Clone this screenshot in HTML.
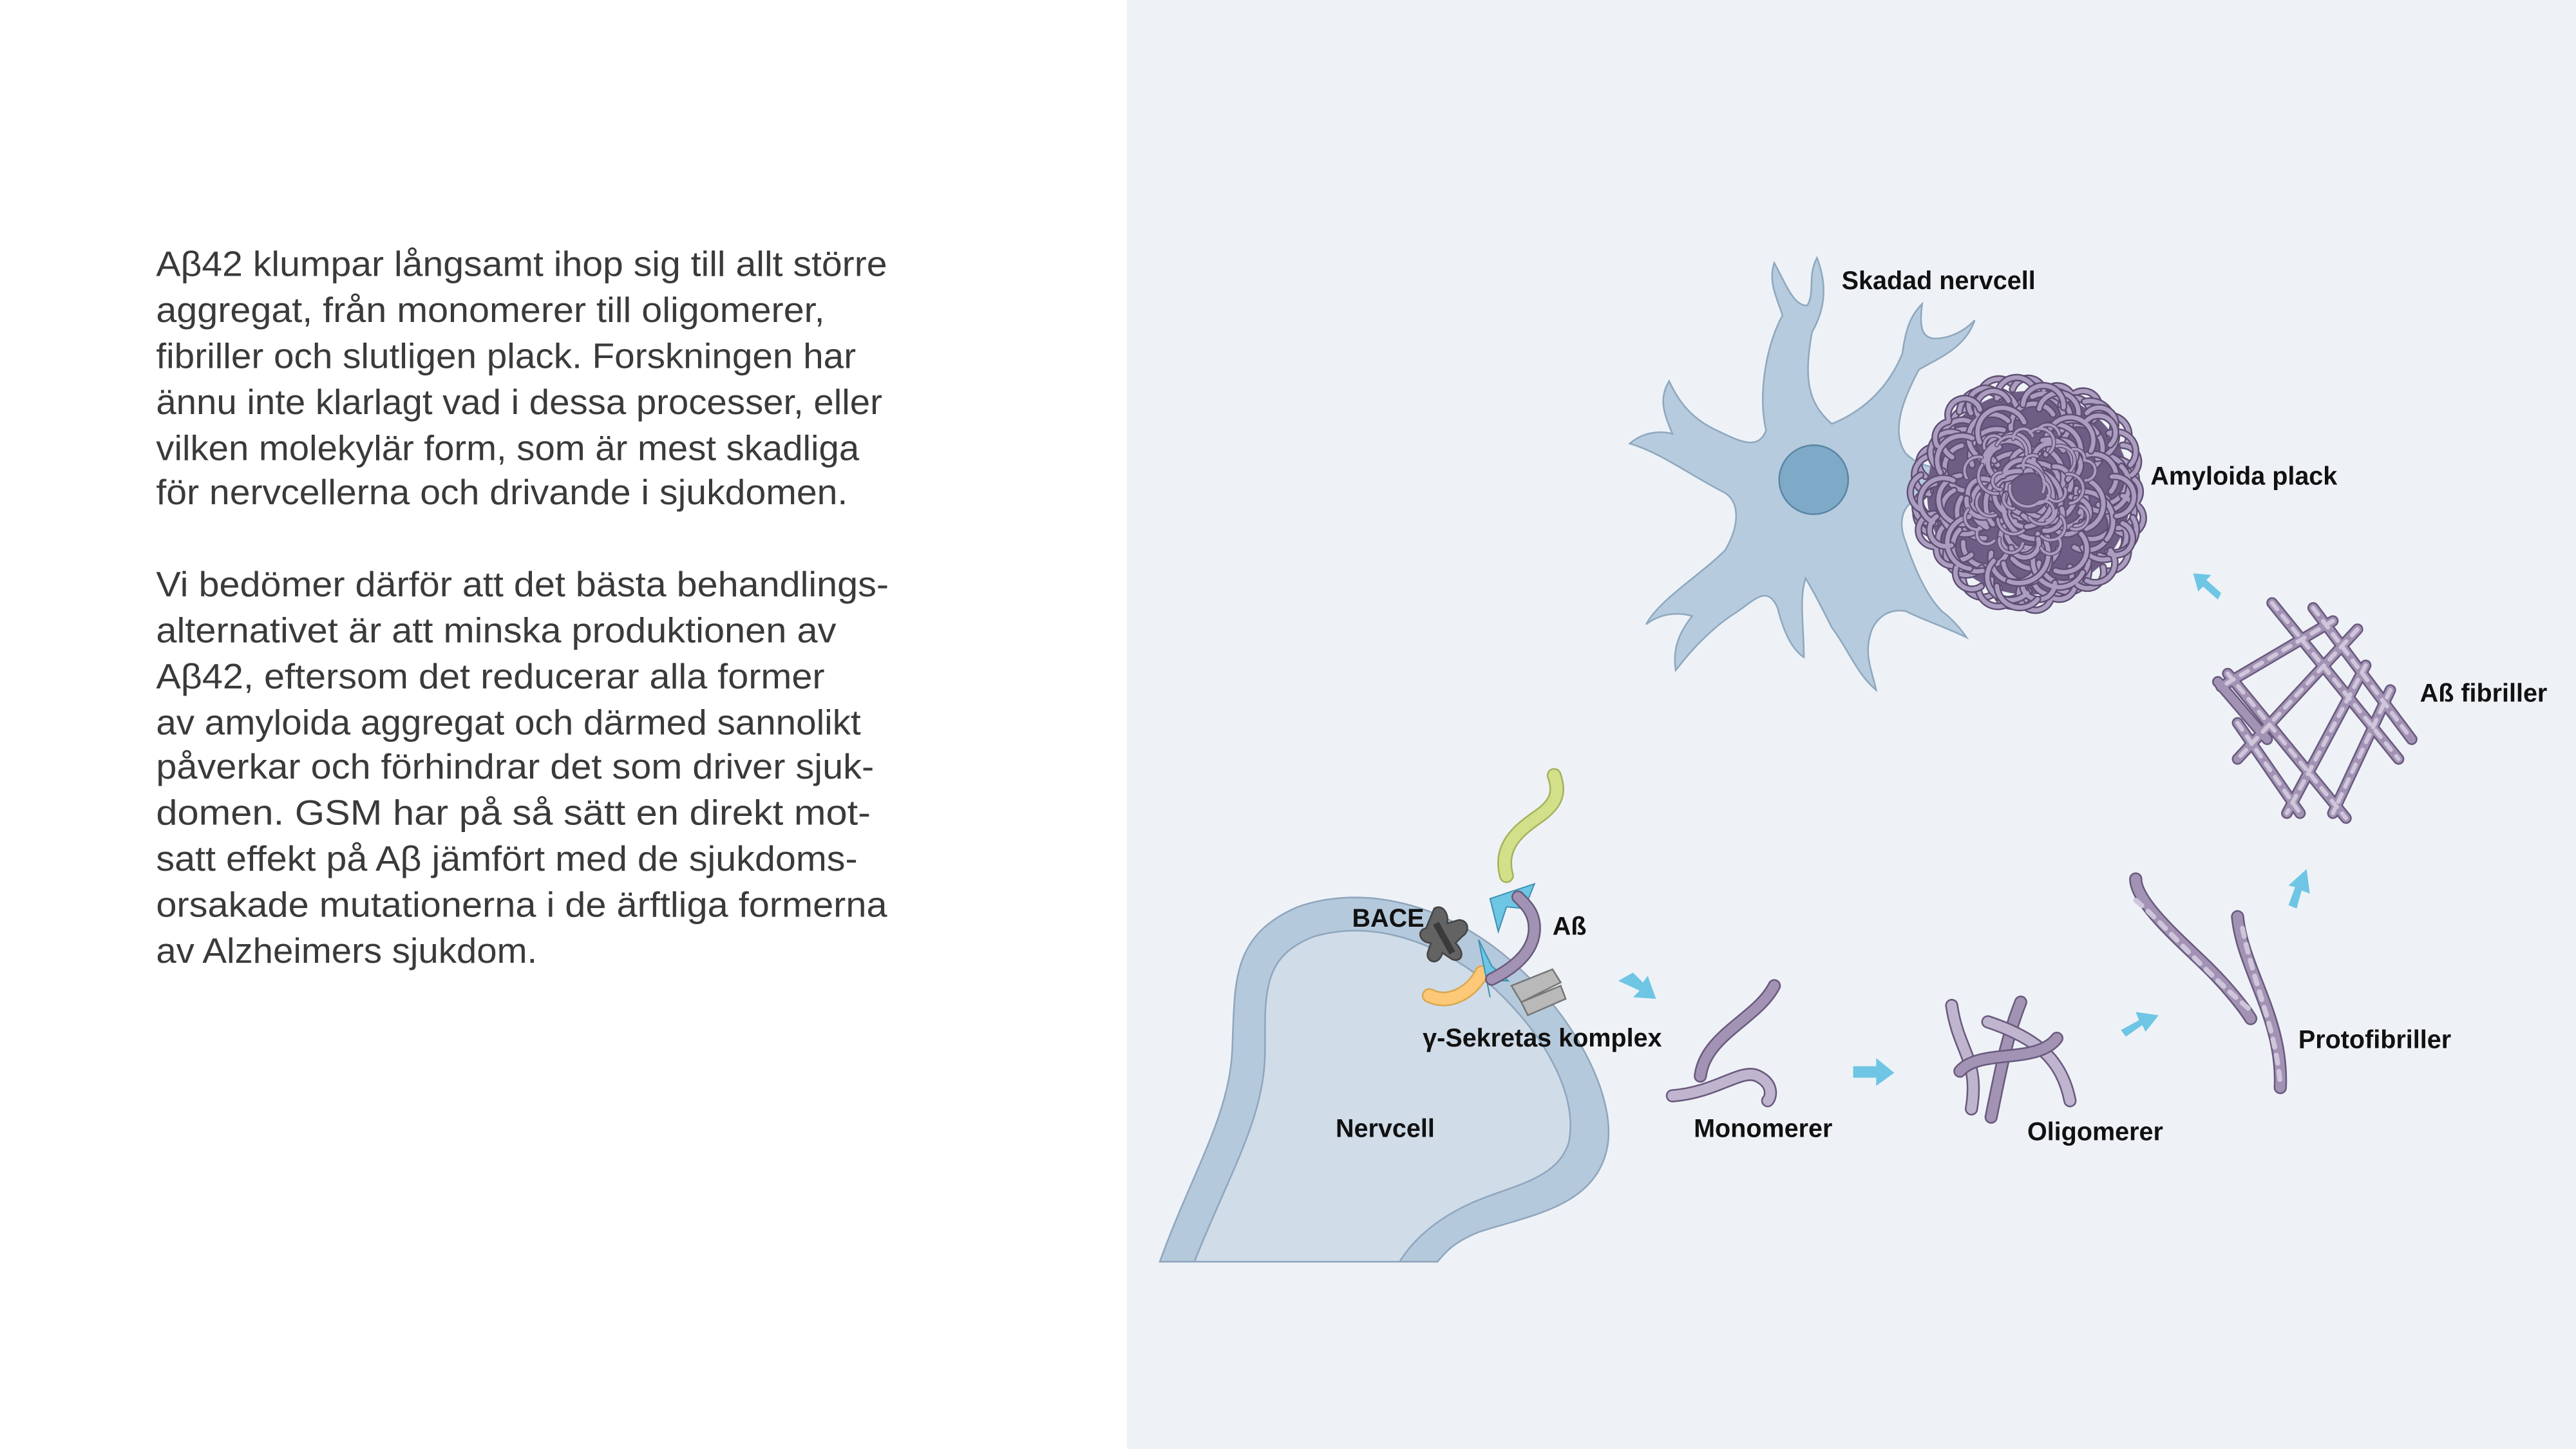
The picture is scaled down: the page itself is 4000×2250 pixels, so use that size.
<!DOCTYPE html>
<html><head><meta charset="utf-8"><style>
html,body{margin:0;padding:0;background:#fff}
svg{display:block}
.p{font-family:"Liberation Sans",sans-serif;font-size:21.5px;fill:#3a3a3a}
.l{font-family:"Liberation Sans",sans-serif;font-size:15.5px;font-weight:bold;fill:#111}
.o{fill:none;stroke:#6a5a7e;stroke-linecap:round}
.d{fill:none;stroke:#a293b4;stroke-linecap:round}
.lt{fill:none;stroke:#c0b5ce;stroke-linecap:round}
.tw{fill:none;stroke:#cfc6db;stroke-linecap:round;stroke-dasharray:5 5}
.ar{fill:#6ec6e4}
</style></head><body>
<svg width="4000" height="2250" viewBox="0 0 1568 882" xmlns="http://www.w3.org/2000/svg">
<defs>
<path id="pl" fill="none" d="M1180,280 a16,16 0 0 1 30,-10 M1200,250 a14,14 0 0 1 28,4 M1230,245 a15,15 0 0 1 26,12 M1255,262 a14,14 0 0 1 20,22 M1180,305 a18,18 0 0 0 30,14 M1195,330 a14,14 0 0 0 26,8 M1225,340 a16,16 0 0 0 28,-6 M1250,320 a15,15 0 0 0 18,-22 M1210,285 a20,20 0 0 1 36,6 M1215,305 a18,18 0 0 0 34,-4 M1240,282 a12,12 0 0 1 8,22 M1190,265 a10,10 0 0 1 14,-14 M1262,240 a10,10 0 0 1 12,16 M1275,300 a12,12 0 0 1 -4,28 M1260,345 a12,12 0 0 1 -22,10 M1195,350 a12,12 0 0 0 22,8 M1175,325 a14,14 0 0 1 0,-26 M1220,265 a10,10 0 0 0 -4,18 M1232,322 a10,10 0 0 1 -16,-6 M1250,300 a10,10 0 0 1 16,12 M1205,240 a12,12 0 0 1 20,-6 M1245,238 a10,10 0 0 1 16,2 M1285,280 a12,12 0 0 1 6,24 M1288,320 a10,10 0 0 1 -10,18 M1172,290 a10,10 0 0 1 6,-18 M1215,358 a10,10 0 0 0 20,2 M1200,300 a8,8 0 0 0 10,14 M1262,275 a8,8 0 0 1 -10,16"/>
<g id="plg">
<use href="#pl" style="fill:none;stroke:#5e4e72;stroke-width:4.5;stroke-linecap:round"/>
<use href="#pl" style="fill:none;stroke:#ab9dc0;stroke-width:2.6;stroke-linecap:round"/>
</g>
</defs>
<rect x="0" y="0" width="1568" height="882" fill="#fff"/>
<rect x="686" y="0" width="882" height="882" fill="#eef2f7"/>

<g class="p">
<text x="95" y="168" textLength="445" lengthAdjust="spacingAndGlyphs">Aβ42 klumpar långsamt ihop sig till allt större</text>
<text x="95" y="196" textLength="407" lengthAdjust="spacingAndGlyphs">aggregat, från monomerer till oligomerer,</text>
<text x="95" y="224" textLength="426" lengthAdjust="spacingAndGlyphs">fibriller och slutligen plack. Forskningen har</text>
<text x="95" y="252" textLength="442" lengthAdjust="spacingAndGlyphs">ännu inte klarlagt vad i dessa processer, eller</text>
<text x="95" y="280" textLength="428" lengthAdjust="spacingAndGlyphs">vilken molekylär form, som är mest skadliga</text>
<text x="95" y="307" textLength="421" lengthAdjust="spacingAndGlyphs">för nervcellerna och drivande i sjukdomen.</text>
<text x="95" y="363" textLength="446" lengthAdjust="spacingAndGlyphs">Vi bedömer därför att det bästa behandlings-</text>
<text x="95" y="391" textLength="414" lengthAdjust="spacingAndGlyphs">alternativet är att minska produktionen av</text>
<text x="95" y="419" textLength="407" lengthAdjust="spacingAndGlyphs">Aβ42, eftersom det reducerar alla former</text>
<text x="95" y="447" textLength="429" lengthAdjust="spacingAndGlyphs">av amyloida aggregat och därmed sannolikt</text>
<text x="95" y="474" textLength="437" lengthAdjust="spacingAndGlyphs">påverkar och förhindrar det som driver sjuk-</text>
<text x="95" y="502" textLength="435" lengthAdjust="spacingAndGlyphs">domen. GSM har på så sätt en direkt mot-</text>
<text x="95" y="530" textLength="427" lengthAdjust="spacingAndGlyphs">satt effekt på Aβ jämfört med de sjukdoms-</text>
<text x="95" y="558" textLength="445" lengthAdjust="spacingAndGlyphs">orsakade mutationerna i de ärftliga formerna</text>
<text x="95" y="586" textLength="232" lengthAdjust="spacingAndGlyphs">av Alzheimers sjukdom.</text>
</g>

<!-- Nervcell body -->
<path d="M706,768 C725,715 748,680 750,640 C752,600 748,570 790,552 C830,538 880,550 920,585 C960,620 985,670 978,700 C970,735 930,740 900,750 C885,756 880,762 875,768 Z" fill="#b5c9dc" stroke="#8fa6bd" stroke-width="1"/>
<path d="M727,768 C748,715 770,680 770,640 C770,605 768,582 800,570 C835,560 875,572 910,602 C945,635 960,670 955,695 C948,720 915,722 890,735 C870,745 858,758 852,768 Z" fill="#d0dce8" stroke="#8fa6bd" stroke-width="1"/>

<!-- membrane proteins -->
<path d="M873,553 C878,550 882,556 881,562 L888,560 C894,560 895,567 890,570 L886,574 C892,580 890,586 884,584 L878,580 C876,588 868,586 869,580 L871,574 C864,574 862,566 868,565 Z" fill="#636363" stroke="#444" stroke-width="1"/>
<path d="M874,562 L884,580" stroke="#3a3a3a" stroke-width="4"/>
<path d="M920,600 L945,590 L950,598 L926,610 Z M926,610 L950,600 L953,608 L930,618 Z" fill="#b9b9b9" stroke="#777" stroke-width="1"/>
<path d="M870,606 C882,612 896,604 902,592" stroke="#d9a94e" stroke-width="9" fill="none" stroke-linecap="round"/>
<path d="M870,606 C882,612 896,604 902,592" stroke="#fdc878" stroke-width="7" fill="none" stroke-linecap="round"/>
<path d="M917,533 C912,515 925,505 935,498 C947,490 950,483 946,472" stroke="#a6b25c" stroke-width="9" fill="none" stroke-linecap="round"/>
<path d="M917,533 C912,515 925,505 935,498 C947,490 950,483 946,472" stroke="#d3e08a" stroke-width="7" fill="none" stroke-linecap="round"/>
<path d="M907,547 L934,538 L928,553 L917,552 L912,567 Z" fill="#6ec6e4" stroke="#3e92b3" stroke-width="0.8"/>
<path d="M900,572 L908,588 L918,597 L905,597 L907,607 Z" fill="#6ec6e4" stroke="#3e92b3" stroke-width="0.8"/>
<path d="M908,596 C920,590 934,580 934,565 C934,555 928,550 924,546" class="o" stroke-width="8"/>
<path d="M908,596 C920,590 934,580 934,565 C934,555 928,550 924,546" class="d" stroke-width="6"/>

<g class="ar">
<path d="M985,597 L994,592 L1000,598 L1003,594 L1008,608 L994,607 L998,603 Z"/>
<path d="M1128,649 L1142,649 L1142,644 L1153,653 L1142,661 L1142,656 L1128,656 Z"/>
<path d="M1291,627 L1302,621 L1300,616 L1314,618 L1306,628 L1304,624 L1294,631 Z"/>
<path d="M1393,551 L1397,540 L1393,539 L1404,529 L1406,544 L1401,542 L1398,553 Z"/>
<path d="M1350,365 L1341,357 L1338,360 L1335,349 L1346,350 L1343,353 L1352,361 Z"/>
</g>

<!-- Monomers -->
<path d="M1035,655 C1038,630 1070,620 1080,600" class="o" stroke-width="8"/>
<path d="M1035,655 C1038,630 1070,620 1080,600" class="d" stroke-width="6"/>
<path d="M1018,667 C1045,665 1060,650 1070,655 C1080,660 1078,668 1076,670" class="o" stroke-width="8"/>
<path d="M1018,667 C1045,665 1060,650 1070,655 C1080,660 1078,668 1076,670" class="lt" stroke-width="6"/>

<!-- Oligomers -->
<path d="M1188,612 C1192,640 1205,645 1200,675" class="o" stroke-width="8"/><path d="M1188,612 C1192,640 1205,645 1200,675" class="lt" stroke-width="6"/>
<path d="M1230,610 C1222,630 1218,650 1212,680" class="o" stroke-width="8"/><path d="M1230,610 C1222,630 1218,650 1212,680" class="d" stroke-width="6"/>
<path d="M1210,622 C1240,632 1255,645 1260,670" class="o" stroke-width="8"/><path d="M1210,622 C1240,632 1255,645 1260,670" class="lt" stroke-width="6"/>
<path d="M1193,652 C1205,638 1240,648 1252,632" class="o" stroke-width="8"/><path d="M1193,652 C1205,638 1240,648 1252,632" class="d" stroke-width="6"/>

<!-- Protofibrils -->
<path d="M1300,535 C1300,550 1330,575 1345,590 C1355,600 1365,612 1370,620" class="o" stroke-width="8"/>
<path d="M1300,535 C1300,550 1330,575 1345,590 C1355,600 1365,612 1370,620" class="d" stroke-width="6"/>
<path d="M1300,548 C1320,565 1335,585 1370,615" class="tw" stroke-width="3"/>
<path d="M1362,558 C1365,590 1390,620 1388,662" class="o" stroke-width="8"/>
<path d="M1362,558 C1365,590 1390,620 1388,662" class="d" stroke-width="6"/>
<path d="M1365,565 C1372,600 1385,625 1388,660" class="tw" stroke-width="3"/>

<!-- fibril lattice -->
<path d="M1383,367 L1460,462 M1408,370 L1468,450 M1356,410 L1428,498 M1362,440 L1400,495 M1435,383 L1362,462 M1440,405 L1392,495 M1420,378 L1352,418 M1455,420 L1420,495 M1350,415 L1380,450" class="o" stroke-width="7"/>
<path d="M1383,367 L1460,462 M1408,370 L1468,450 M1356,410 L1428,498 M1362,440 L1400,495 M1435,383 L1362,462 M1440,405 L1392,495 M1420,378 L1352,418 M1455,420 L1420,495 M1350,415 L1380,450" class="d" stroke-width="5"/>
<path d="M1383,367 L1460,462 M1408,370 L1468,450 M1356,410 L1428,498 M1362,440 L1400,495 M1435,383 L1362,462 M1440,405 L1392,495 M1420,378 L1352,418 M1455,420 L1420,495" class="tw" stroke-width="2.5"/>

<!-- Neuron -->
<path d="M1075,262 C1070,240 1075,210 1085,192 C1082,182 1076,172 1080,160 C1088,175 1092,186 1100,186 C1105,178 1100,168 1106,157 C1113,175 1110,190 1103,202 C1098,230 1100,245 1115,258 C1135,250 1150,235 1158,215 C1160,200 1163,192 1170,185 C1168,200 1170,207 1180,206 C1190,205 1197,200 1202,195 C1196,212 1180,218 1168,225 C1160,240 1150,262 1160,276 C1166,282 1172,284 1182,285 L1182,300 C1165,300 1152,310 1160,330 C1165,345 1172,362 1182,372 C1190,378 1195,385 1197,388 C1185,382 1172,378 1160,372 C1148,370 1140,378 1138,388 C1135,400 1140,410 1142,420 C1130,410 1125,395 1115,382 C1110,372 1104,360 1099,352 C1095,365 1098,380 1098,400 C1090,395 1085,382 1082,370 C1076,356 1068,365 1058,372 C1042,382 1030,395 1020,408 C1018,395 1022,385 1030,375 C1020,372 1010,374 1002,380 C1010,365 1035,350 1050,335 C1060,318 1058,305 1050,300 C1030,290 1010,275 992,270 C1000,263 1010,262 1018,264 C1012,250 1010,242 1016,232 C1022,245 1030,255 1045,262 C1058,268 1070,275 1075,262 Z" fill="#b6cbdd" stroke="#8ea8bf" stroke-width="1"/>
<ellipse cx="1104" cy="292" rx="21" ry="21" fill="#7faac7" stroke="#5a86a5" stroke-width="1"/>

<!-- Plaque -->
<circle cx="1235" cy="300" r="62" fill="#6e5e86"/>
<use href="#plg"/>
<use href="#plg" transform="rotate(72 1235 300)"/>
<use href="#plg" transform="rotate(144 1235 300)"/>
<use href="#plg" transform="rotate(216 1235 300)"/>
<use href="#plg" transform="rotate(288 1235 300)"/>
<use href="#plg" transform="rotate(36 1235 300) translate(1235 300) scale(0.6) translate(-1235 -300)"/>

<g class="l">
<text x="1121" y="176">Skadad nervcell</text>
<text x="1309" y="295">Amyloida plack</text>
<text x="1473" y="427">Aß fibriller</text>
<text x="1399" y="638">Protofibriller</text>
<text x="1234" y="694">Oligomerer</text>
<text x="1031" y="692">Monomerer</text>
<text x="813" y="692">Nervcell</text>
<text x="866" y="637">γ-Sekretas komplex</text>
<text x="823" y="564">BACE</text>
<text x="945" y="569">Aß</text>
</g>
</svg>
</body></html>
